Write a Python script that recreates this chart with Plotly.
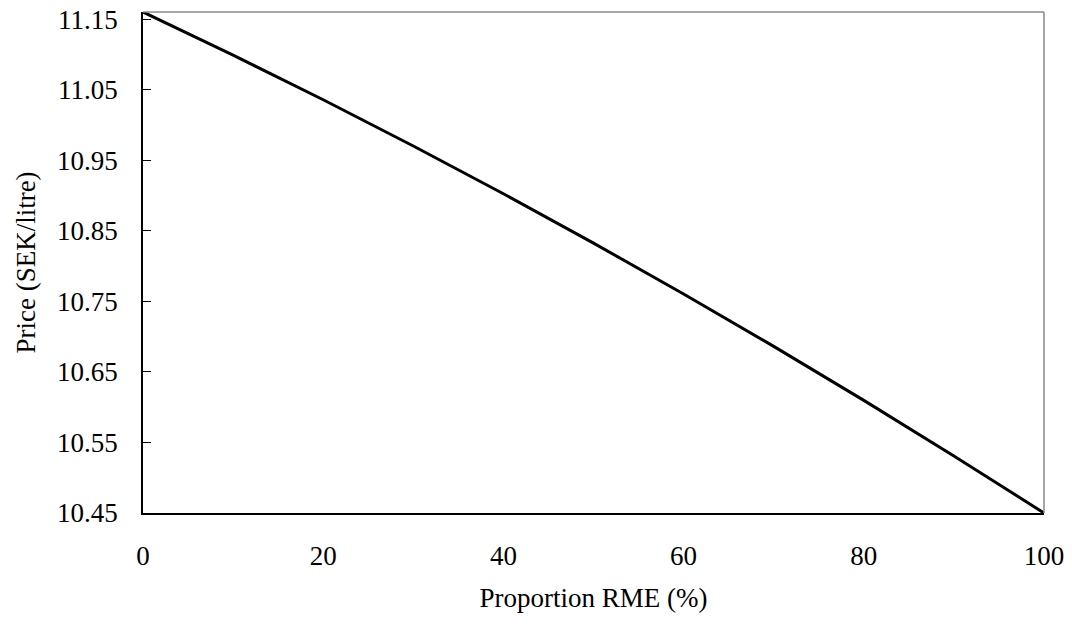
import plotly.graph_objects as go

proportion_rme = [0, 10, 20, 30, 40, 50, 60, 70, 80, 90, 100]
price_sek = [11.1600, 11.0989, 11.0356, 10.9701, 10.9024, 10.8325, 10.7604, 10.6861, 10.6096, 10.5309, 10.4500]
y_ticks = [10.45, 10.55, 10.65, 10.75, 10.85, 10.95, 11.05, 11.15]
x_ticks = [0, 20, 40, 60, 80, 100]

font = "Liberation Serif, Times New Roman, serif"
FS = 27

fig = go.Figure()
fig.add_trace(go.Scatter(x=proportion_rme, y=price_sek, mode="lines",
                         line=dict(color="black", width=3),
                         showlegend=False, hoverinfo="skip"))

fig.update_layout(
    width=1072, height=628,
    margin=dict(l=143, r=28, t=12, b=115, autoexpand=False),
    paper_bgcolor="white", plot_bgcolor="white",
    font=dict(family=font, size=FS, color="black"),
    shapes=[dict(type="line", xref="paper", yref="paper", x0=0, x1=1, y0=1, y1=1,
                 line=dict(color="#888888", width=1.5)),
            dict(type="line", xref="paper", yref="paper", x0=1, x1=1, y0=0, y1=1,
                 line=dict(color="#888888", width=1.5))],
)
fig.update_xaxes(range=[0, 100], tickvals=x_ticks, ticks="", showgrid=False, zeroline=False,
                 showline=True, linecolor="black", linewidth=1.5,
                 ticklabelstandoff=18, tickfont=dict(size=FS), ticklabeloverflow="allow",
                 title=dict(text="Proportion RME (%)", standoff=18, font=dict(size=FS)))
fig.update_yaxes(range=[10.45, 11.16], tickvals=y_ticks, ticktext=[f"{v:.2f}" for v in y_ticks],
                 ticks="inside", ticklen=8, tickcolor="black", tickwidth=1,
                 showgrid=False, zeroline=False,
                 showline=True, linecolor="black", linewidth=1.5,
                 ticklabelstandoff=18, tickfont=dict(size=FS), ticklabeloverflow="allow",
                 title=dict(text="Price (SEK/litre)", standoff=14, font=dict(size=FS)))

fig.write_html("out.html", config={"displayModeBar": False})

# remove the browser's default 8px body margin so the figure sits at the page origin
with open("out.html", encoding="utf-8") as f:
    html = f.read()
html = html.replace("<head>", "<head><style>html,body{margin:0;padding:0;}</style>", 1)
with open("out.html", "w", encoding="utf-8") as f:
    f.write(html)
